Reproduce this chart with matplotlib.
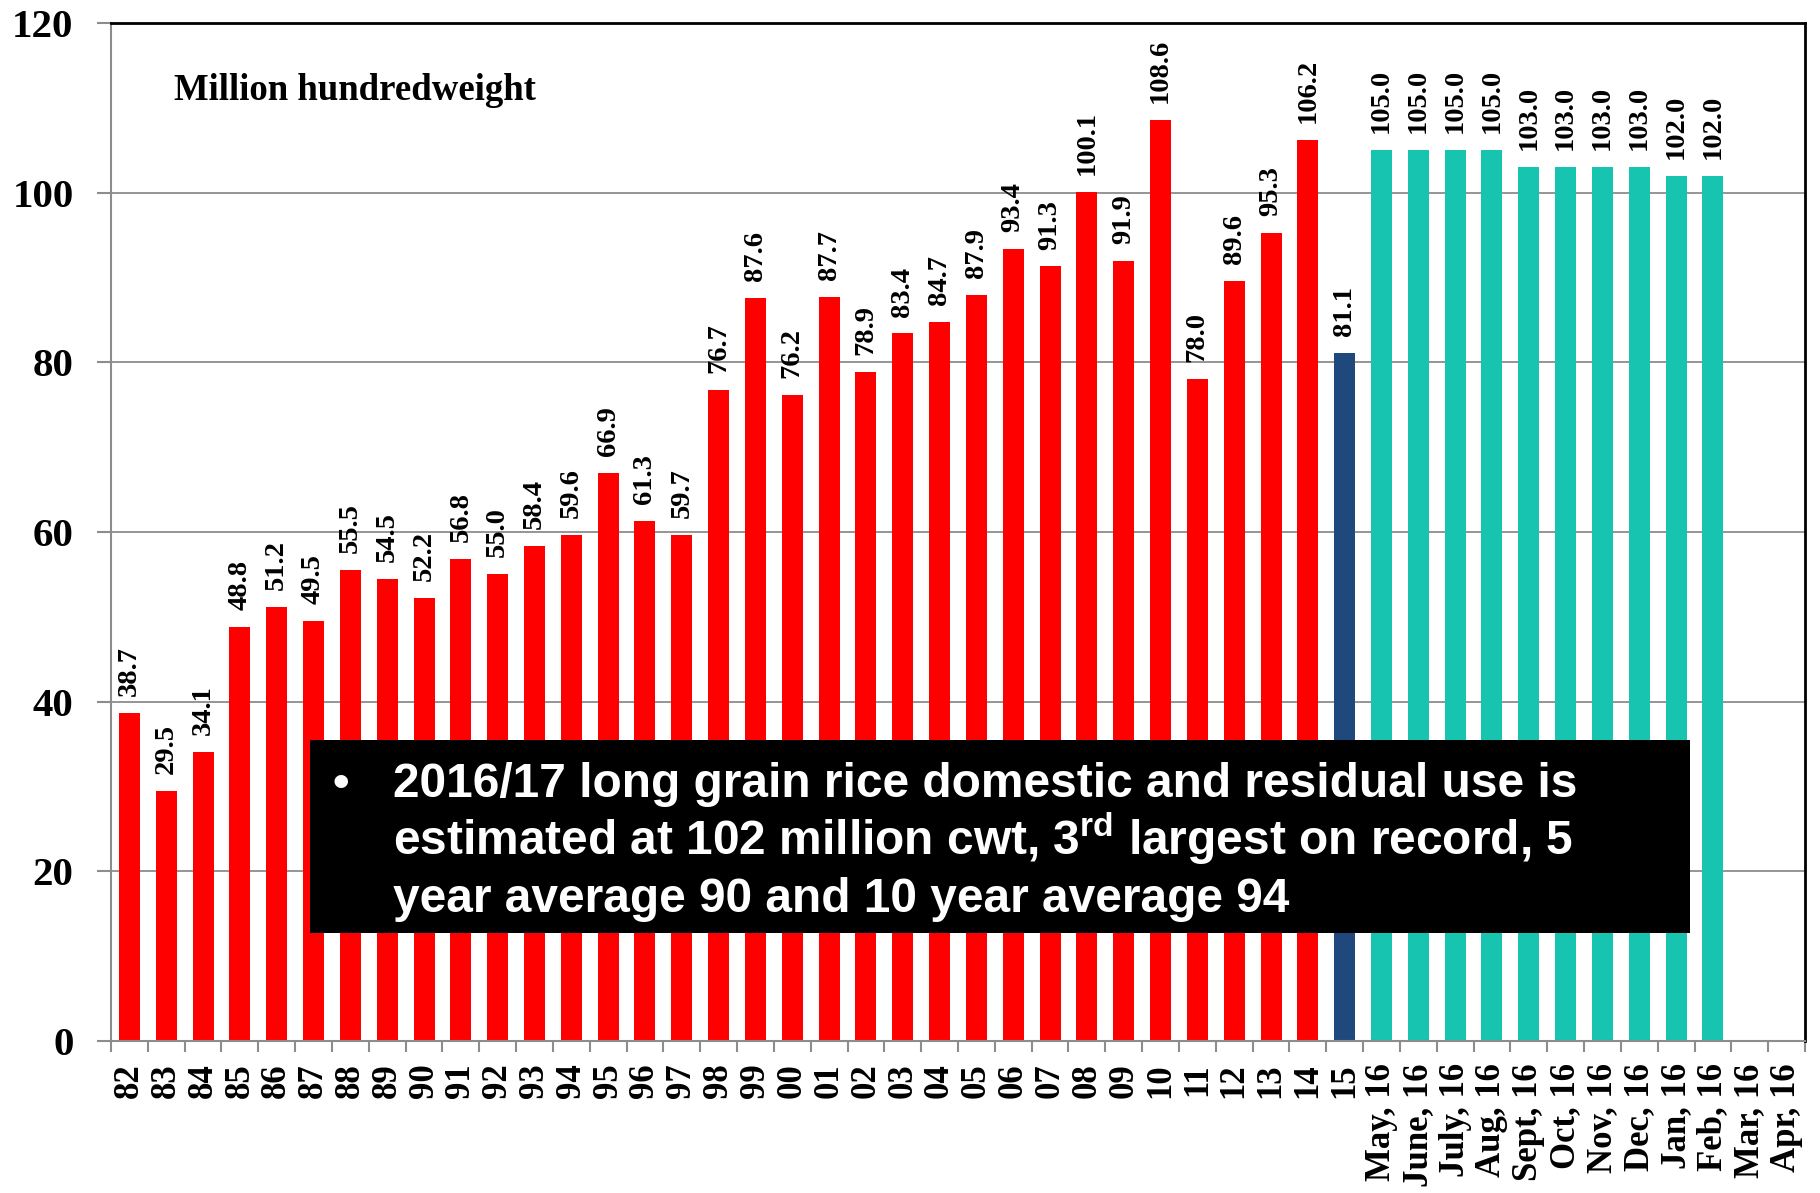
import matplotlib
matplotlib.use("Agg")
import matplotlib.pyplot as plt
from matplotlib.patches import Rectangle

categories = ["82","83","84","85","86","87","88","89","90","91","92","93","94","95","96","97",
              "98","99","00","01","02","03","04","05","06","07","08","09","10","11","12","13","14","15",
              "May, 16","June, 16","July, 16","Aug, 16","Sept, 16","Oct, 16","Nov, 16","Dec, 16",
              "Jan, 16","Feb, 16","Mar, 16","Apr, 16"]
values = [38.7,29.5,34.1,48.8,51.2,49.5,55.5,54.5,52.2,56.8,55.0,58.4,59.6,66.9,61.3,59.7,
          76.7,87.6,76.2,87.7,78.9,83.4,84.7,87.9,93.4,91.3,100.1,91.9,108.6,78.0,89.6,95.3,106.2,81.1,
          105.0,105.0,105.0,105.0,103.0,103.0,103.0,103.0,102.0,102.0,None,None]
groups = ["hist"]*33 + ["prev"] + ["est"]*10 + ["hist"] + ["none","none"]
colors = {"hist": "#FF0000", "prev": "#1F497D", "est": "#17C4B0", "none": "#FFFFFF"}
yticks = [0, 20, 40, 60, 80, 100, 120]

plt.rcParams["mathtext.fontset"] = "custom"
plt.rcParams["mathtext.bf"] = "Liberation Sans:bold"
plt.rcParams["mathtext.rm"] = "Liberation Sans:bold"

W, H = 1820, 1193
fig = plt.figure(figsize=(W/100, H/100), dpi=100)
L, R, T, B = 111, 1805, 23, 1041
ax = fig.add_axes([L/W, 1-B/H, (R-L)/W, (B-T)/H])

serif = "Liberation Serif"
xs = list(range(len(categories)))
for x, v, g in zip(xs, values, groups):
    if v is None:
        continue
    ax.bar(x, v, width=0.57, color=colors[g], zorder=2)
    ax.text(x, v + 2.0, f"{v:.1f}", rotation=90, ha="center", va="bottom",
            fontsize=20.5, fontweight="bold", family=serif, zorder=3)

ax.set_xlim(-0.5, len(categories) - 0.5)
ax.set_ylim(0, 120)
ax.set_yticks(yticks)
ax.set_yticklabels([str(t) for t in yticks], fontsize=29.5, fontweight="bold", family=serif)
ax.yaxis.grid(True, color="#8C8C8C", linewidth=1.3, zorder=0)
ax.set_axisbelow(True)

ax.set_xticks([x + 0.5 for x in range(-1, len(categories))], minor=False)
ax.set_xticklabels([])
ax.set_xticks(xs, minor=True)
ax.set_xticklabels(categories, minor=True, rotation=90, fontsize=25, fontweight="bold",
                   family=serif, va="top", ha="center")
ax.tick_params(axis="x", which="major", length=8, width=1.5, color="#8C8C8C")
ax.tick_params(axis="x", which="minor", length=0, pad=16)
ax.tick_params(axis="y", length=10, width=1.5, color="#8C8C8C", pad=17)

for s in ["left", "bottom"]:
    ax.spines[s].set_color("#8C8C8C")
    ax.spines[s].set_linewidth(1.5)
for s in ["top", "right"]:
    ax.spines[s].set_color("black")
    ax.spines[s].set_linewidth(2)

ax.text(174/W, 1-100/H, "Million hundredweight", transform=fig.transFigure, ha="left", va="baseline",
        fontsize=26.5, fontweight="bold", family=serif)

# annotation box
bx0, bx1, by0, by1 = 310, 1690, 740, 933
ax.add_patch(Rectangle(((bx0-L)/(R-L), (B-by1)/(B-T)), (bx1-bx0)/(R-L), (by1-by0)/(B-T),
                       transform=ax.transAxes, facecolor="black", edgecolor="none", zorder=5))
sans = "Liberation Sans"
lines = ["2016/17 long grain rice domestic and residual use is",
         r"estimated at 102 million cwt, 3$^{\mathbf{rd}}$ largest on record, 5",
         "year average 90 and 10 year average 94"]
ys = [797, 855, 912]
fig.text(333/W, 1-ys[0]/H, "\u2022", color="white", fontsize=34, fontweight="bold",
         family=sans, ha="left", va="baseline", zorder=6)
for ln, yy in zip(lines, ys):
    fig.text(393/W, 1-yy/H, ln, color="white", fontsize=34.5, fontweight="bold",
             family=sans, ha="left", va="baseline", zorder=6)

fig.savefig("out.png", dpi=100)
